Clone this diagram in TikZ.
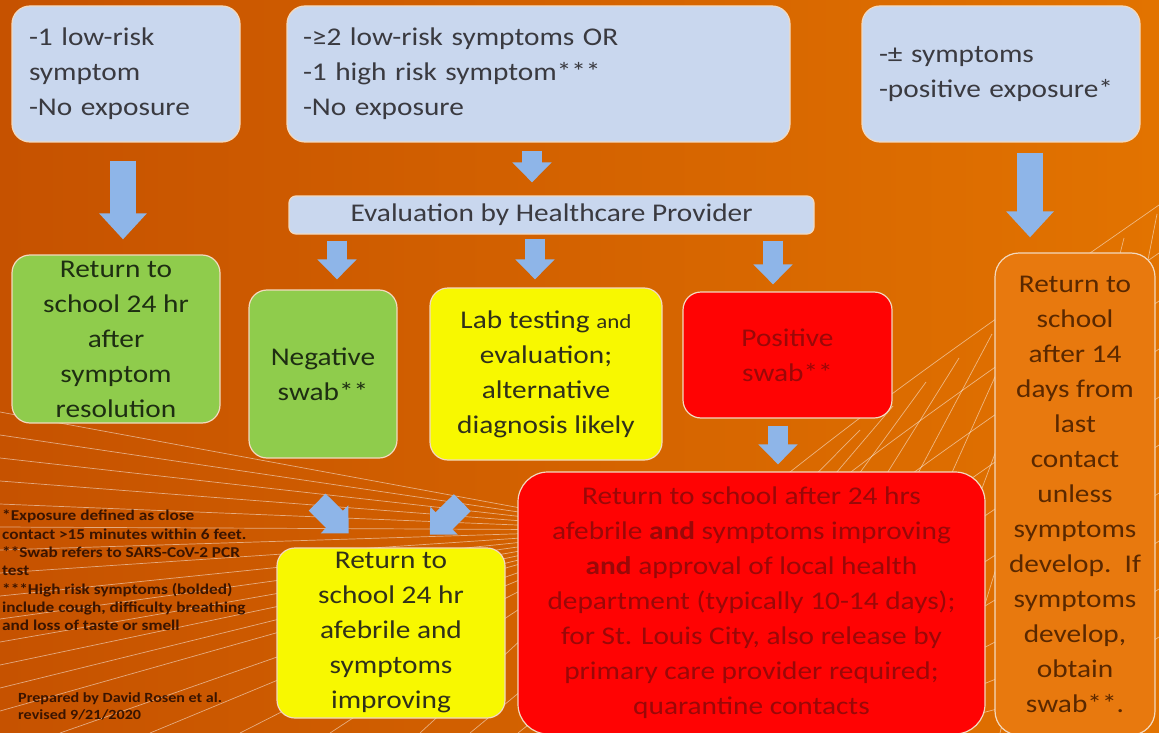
\documentclass[tikz,border=0pt]{standalone}
\usepackage{fontspec}
\setmainfont{Carlito}[FakeStretch=1.15]
\usetikzlibrary{arrows.meta}
\definecolor{bgL}{HTML}{C65200}
\definecolor{bgR}{HTML}{E27300}
\definecolor{bluefill}{HTML}{C9D7EE}
\definecolor{bluetext}{HTML}{3A3A40}
\definecolor{greenfill}{HTML}{8FCC4C}
\definecolor{greentext}{HTML}{1E2E12}
\definecolor{yellowfill}{HTML}{F8F800}
\definecolor{yellowtext}{HTML}{30301A}
\definecolor{redfill}{HTML}{FF0303}
\definecolor{redtext}{HTML}{9A0808}
\definecolor{orangefill}{HTML}{E8790E}
\definecolor{orangetext}{HTML}{5A2800}
\definecolor{boxedge}{HTML}{F3D9BE}
\definecolor{arrowblue}{HTML}{8EB5E8}
\definecolor{foottext}{HTML}{3A1400}
\newcommand\boxfont{\fontsize{25.5}{35}\selectfont}
\newcommand\footfont{\fontsize{15}{18.3}\selectfont\bfseries}
\newcommand\prepfont{\fontsize{14}{17}\selectfont\bfseries}
\begin{document}
\begin{tikzpicture}[x=1pt,y=1pt,
  box/.style={draw=boxedge, line width=1.2pt, rounded corners=18pt, inner sep=0pt, font=\boxfont, align=center},
  bluebox/.style={box, fill=bluefill, text=bluetext},
  greenbox/.style={box, fill=greenfill, text=greentext},
  yellowbox/.style={box, fill=yellowfill, text=yellowtext},
  redbox/.style={box, fill=redfill, text=redtext},
  orangebox/.style={box, fill=orangefill, text=orangetext},
  leftbox/.style={bluebox, align=left, inner xsep=17pt},
  barrow/.style={line width=26pt, color=arrowblue, -{Triangle[width=46pt,length=26pt]}},
  sarrow/.style={line width=20pt, color=arrowblue, -{Triangle[width=38pt,length=20pt]}},
  deco/.style={draw=white, line width=0.7pt, opacity=0.5}
]
\useasboundingbox (0,0) rectangle (1159,-733);
\shade[left color=bgL, right color=bgR] (0,0) rectangle (1159,-733);

% decorative lines
\foreach \y in {412,435,...,733} {\draw[deco] (0,-\y) -- (640,-530);}
\foreach \x in {60,150,...,420} {\draw[deco] (\x,-733) -- (640,-530);}
\foreach \k in {0,...,9} {
  \draw[deco] ({470+\k*48},-733) .. controls ({850+\k*25},{-420-\k*30}) .. (1159,{-205-\k*48});
}
\foreach \j in {0,...,9} {
  \draw[deco] ({560+\j*55},-733) -- ({860+\j*33},{-430+\j*24});
}

% nodes
\node[leftbox, text width=194pt, minimum height=136pt] (A) at (126,-74)
  {-1 low-risk\\symptom\\-No exposure};
\node[leftbox, text width=471pt, minimum height=136pt, inner xsep=16pt] (B) at (538.5,-74)
  {-≥2 low-risk symptoms OR\\-1 high risk symptom***\\-No exposure};
\node[leftbox, text width=244pt, minimum height=136pt] (C) at (1001,-74)
  {-± symptoms\\-positive exposure*};
\node[bluebox, rounded corners=7pt, minimum width=525pt, minimum height=38pt] (eval) at (551.5,-215)
  {Evaluation by Healthcare Provider};
\node[greenbox, minimum width=208pt, minimum height=168pt] (g1) at (116,-339)
  {Return to\\school 24 hr\\after\\symptom\\resolution};
\node[greenbox, minimum width=148pt, minimum height=168pt] (neg) at (323,-374)
  {Negative\\swab**};
\node[yellowbox, minimum width=232pt, minimum height=172pt] (lab) at (546,-374)
  {Lab testing {\fontsize{20}{35}\selectfont and}\\evaluation;\\alternative\\diagnosis likely};
\node[redbox, minimum width=209pt, minimum height=126pt] (pos) at (787.5,-355)
  {Positive\\swab**};
\node[redbox, rounded corners=30pt, minimum width=467pt, minimum height=262pt] (red2) at (751.5,-603)
  {Return to school after 24 hrs\\afebrile \textbf{and} symptoms improving\\\textbf{and} approval of local health\\department (typically 10-14 days);\\for St. Louis City, also release by\\primary care provider required;\\quarantine contacts};
\node[yellowbox, minimum width=228pt, minimum height=170pt] (yel2) at (391,-633)
  {Return to\\school 24 hr\\afebrile and\\symptoms\\improving};
\node[orangebox, rounded corners=24pt, minimum width=160pt, minimum height=482pt] (orng) at (1075,-494)
  {Return to\\school\\after 14\\days from\\last\\contact\\unless\\symptoms\\develop.~~If\\symptoms\\develop,\\obtain\\swab**.};

% footnotes
\node[anchor=north west, align=left, inner sep=0pt, font=\footfont, text=foottext] (fn) at (2,-510)
  {*Exposure defined as close\\contact >15 minutes within 6 feet.\\**Swab refers to SARS-CoV-2 PCR\\test\\***High risk symptoms (bolded)\\include cough, difficulty breathing\\and loss of taste or smell};
\node[anchor=north west, align=left, inner sep=0pt, font=\prepfont, text=foottext] (prep) at (18,-692)
  {Prepared by David Rosen et al.\\revised 9/21/2020};

% arrows
\draw[barrow, shorten <=18pt, shorten >=15pt] ([xshift=-3pt]A.south) -- ([xshift=7pt]g1.north);
\draw[sarrow, shorten <=8pt, shorten >=13pt] ([xshift=-6.5pt]B.south) -- ([xshift=-19.5pt]eval.north);
\draw[sarrow, shorten <=6pt, shorten >=10pt] ([xshift=-214.5pt]eval.south) -- ([xshift=14pt]neg.north);
\draw[sarrow, shorten <=4pt, shorten >=8pt] ([xshift=-16.5pt]eval.south) -- ([xshift=-11pt]lab.north);
\draw[sarrow, shorten <=6pt, shorten >=7pt] ([xshift=221.5pt]eval.south) -- ([xshift=-14.5pt]pos.north);
\draw[barrow, shorten <=10pt, shorten >=15pt] ([xshift=29pt]C.south) -- ([xshift=-45pt]orng.north);
\draw[sarrow, shorten <=7pt, shorten >=7pt] ([xshift=-9.5pt]pos.south) -- ([xshift=26.5pt]red2.north);
\draw[sarrow, line width=24pt, shorten <=62pt, shorten >=20pt] ([xshift=-50pt]neg.south) -- ([xshift=-28pt]yel2.north);
\draw[sarrow, line width=24pt, shorten <=60pt, shorten >=18pt] ([xshift=-41pt]lab.south) -- ([xshift=26pt]yel2.north);
\end{tikzpicture}
\end{document}
